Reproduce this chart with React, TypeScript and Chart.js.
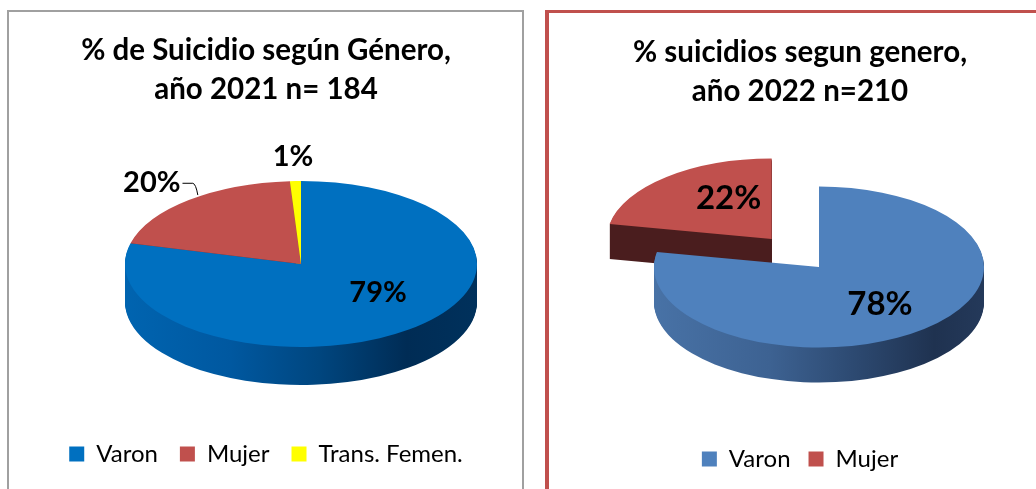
import React, { useEffect, useRef } from 'react';
import { Chart, registerables } from 'chart.js';

Chart.register(...registerables);

// ---------- data ----------
const leftCategories = ['Varon', 'Mujer', 'Trans. Femen.'];
const leftValues = [79, 20, 1];
const leftTitle = ['% de Suicidio según Género,', 'año 2021 n= 184'];

const rightCategories = ['Varon', 'Mujer'];
const rightValues = [78, 22];
const rightTitle = ['% suicidios segun genero,', 'año 2022 n=210'];

// ---------- styles ----------
const leftTopColors = ['#0070C0', '#C0504D', '#FFFF00'];
const leftSideStops: [number, string][][] = [
  [[0, '#0064b0'], [0.3, '#0058a0'], [0.55, '#00467f'], [0.8, '#002c55'], [1, '#00315c']],
  [[0, '#7a2a28'], [1, '#5a1e1d']],
  [[0, '#9a9a00'], [1, '#9a9a00']],
];
const rightTopColors = ['#4F81BD', '#C0504D'];
const rightSideStops: [number, string][][] = [
  [[0, '#4872a6'], [0.35, '#3d6292'], [0.6, '#2d4a72'], [0.85, '#1f3250'], [1, '#24395a']],
  [[0, '#4a1d1e'], [1, '#4a1d1e']],
];

const FONT = 'Lato, "Open Sans", sans-serif';

const pie3d = {
  id: 'pie3d',
  beforeDatasetsDraw(chart: any, _args: any, opts: any) {
    const ctx: CanvasRenderingContext2D = chart.ctx;
    const meta = chart.getDatasetMeta(0);
    const arcs: any[] = meta.data;
    if (!arcs.length) return false;
    const r = arcs[0].outerRadius;
    const ccx = arcs[0].x;
    const ccy = arcs[0].y;
    const sx = opts.rx / r;
    const sy = opts.ry / r;
    const explode: number[] = opts.explode || [];
    const off = (i: number) => {
      const a = arcs[i];
      const mid = (a.startAngle + a.endAngle) / 2;
      const e = explode[i] || 0;
      return [Math.cos(mid) * e * r, Math.sin(mid) * e * r];
    };
    const drawArc = (i: number, dy: number, color: any) => {
      const a = arcs[i];
      const [ox, oy] = off(i);
      ctx.save();
      ctx.translate(opts.cx, opts.cy + dy);
      ctx.scale(sx, sy);
      ctx.translate(ox - ccx, oy - ccy);
      const fake = Object.create(a);
      fake.options = Object.assign({}, a.options, {
        backgroundColor: color,
        borderWidth: 0,
        offset: 0,
        spacing: 0,
      });
      fake.draw(ctx);
      ctx.restore();
    };
    const sideFill = (i: number) => {
      const g = ctx.createLinearGradient(ccx - r, 0, ccx + r, 0);
      (opts.sides[i] as [number, string][]).forEach(([s, c]) => g.addColorStop(s, c));
      return g;
    };
    const idx = arcs.map((_, i) => i);
    const back = idx.filter((i) => (explode[i] || 0) > 0);
    const front = idx.filter((i) => !((explode[i] || 0) > 0));
    const drawGroup = (group: number[]) => {
      group.forEach((i) => {
        const g = sideFill(i);
        for (let d = opts.depth; d >= 1; d -= 1) drawArc(i, d, g);
      });
      group.forEach((i) => drawArc(i, 0, opts.tops[i]));
    };
    drawGroup(back);
    drawGroup(front);
    return false;
  },
  afterDraw(chart: any, _args: any, opts: any) {
    const ctx: CanvasRenderingContext2D = chart.ctx;
    const meta = chart.getDatasetMeta(0);
    const arcs: any[] = meta.data;
    const values: number[] = chart.data.datasets[0].data;
    const explode: number[] = opts.explode || [];
    ctx.save();
    ctx.font = `bold ${opts.labelSize}px ${FONT}`;
    ctx.fillStyle = '#000';
    ctx.textAlign = 'center';
    ctx.textBaseline = 'middle';
    arcs.forEach((a, i) => {
      const mid = (a.startAngle + a.endAngle) / 2;
      const e = explode[i] || 0;
      const [fx, fy] = opts.labelF[i];
      const x = opts.cx + (e + fx) * Math.cos(mid) * opts.rx;
      const y = opts.cy + (e + fy) * Math.sin(mid) * opts.ry;
      const text = `${values[i]}%`;
      ctx.fillText(text, x, y);
      if (opts.leader && opts.leader[i]) {
        const w = ctx.measureText(text).width;
        const ex = opts.cx + (e + 1) * Math.cos(mid) * opts.rx;
        const ey = opts.cy + (e + 1) * Math.sin(mid) * opts.ry;
        ctx.save();
        ctx.strokeStyle = '#000';
        ctx.lineWidth = 1;
        ctx.beginPath();
        ctx.moveTo(x + w / 2 + 2, y + 0.5);
        ctx.lineTo(ex + 4, y + 0.5);
        ctx.quadraticCurveTo(ex + 7, y + 1, ex + 9, ey - 5);
        ctx.stroke();
        ctx.restore();
      }
    });
    ctx.restore();
  },
};

function PieChart(props: {
  labels: string[];
  values: number[];
  title: string[];
  tops: string[];
  sides: [number, string][][];
  width: number;
  height: number;
  geom: any;
  titlePad: number;
  legendPad: number;
  bottomPad: number;
}) {
  const ref = useRef<HTMLCanvasElement | null>(null);
  useEffect(() => {
    if (!ref.current) return;
    const chart = new Chart(ref.current, {
      type: 'pie',
      data: {
        labels: props.labels,
        datasets: [
          {
            data: props.values,
            backgroundColor: props.tops,
            borderWidth: 0,
            hoverOffset: 0,
          },
        ],
      },
      options: {
        responsive: false,
        animation: false,
        events: [],
        layout: { padding: { bottom: props.bottomPad } },
        plugins: {
          tooltip: { enabled: false },
          title: {
            display: true,
            text: props.title,
            color: '#000',
            font: { family: FONT, size: 29.5, weight: 'bold', lineHeight: '39px' },
            padding: { top: props.titlePad, bottom: 10 },
          },
          legend: {
            display: true,
            position: 'bottom',
            labels: {
              boxWidth: 15,
              boxHeight: 15,
              padding: props.legendPad,
              color: '#000',
              font: { family: FONT, size: 24 },
            },
          },
          pie3d: { ...props.geom, tops: props.tops, sides: props.sides },
        } as any,
      },
      plugins: [pie3d as any],
    });
    return () => chart.destroy();
  }, []);
  return <canvas ref={ref} width={props.width} height={props.height} style={{ display: 'block' }} />;
}

export default function App() {
  return (
    <div
      style={{
        position: 'fixed',
        left: 0,
        top: 0,
        width: 1036,
        height: 489,
        overflow: 'hidden',
        background: '#fff',
      }}
    >
      <div
        style={{
          position: 'absolute',
          left: 7,
          top: 10,
          width: 517,
          height: 600,
          border: '2px solid #a0a0a0',
          boxSizing: 'border-box',
        }}
      />
      <div
        style={{
          position: 'absolute',
          left: 545,
          top: 10,
          width: 600,
          height: 600,
          borderStyle: 'solid',
          borderColor: '#C0504D',
          borderWidth: '3px 4px 4px 4px',
          boxSizing: 'border-box',
        }}
      />
      <div style={{ position: 'absolute', left: 10, top: 12 }}>
        <PieChart
          labels={leftCategories}
          values={leftValues}
          title={leftTitle}
          tops={leftTopColors}
          sides={leftSideStops}
          width={512}
          height={477}
          titlePad={19}
          legendPad={22}
          bottomPad={13}
          geom={{
            cx: 291,
            cy: 252,
            rx: 176,
            ry: 83,
            depth: 38,
            explode: [0, 0, 0],
            labelSize: 29,
            labelF: [
              [0.714, 0.44],
              [1.33, 1.27],
              [1.45, 1.29],
            ],
            leader: [false, true, false],
          }}
        />
      </div>
      <div style={{ position: 'absolute', left: 549, top: 13 }}>
        <PieChart
          labels={rightCategories}
          values={rightValues}
          title={rightTitle}
          tops={rightTopColors}
          sides={rightSideStops}
          width={502}
          height={476}
          titlePad={20}
          legendPad={18}
          bottomPad={8}
          geom={{
            cx: 270,
            cy: 254,
            rx: 165,
            ry: 80.5,
            depth: 35,
            explode: [0, 0.45],
            labelSize: 33,
            labelF: [
              [0.58, 0.6],
              [0.41, 0.65],
            ],
            leader: [false, false],
          }}
        />
      </div>
    </div>
  );
}
